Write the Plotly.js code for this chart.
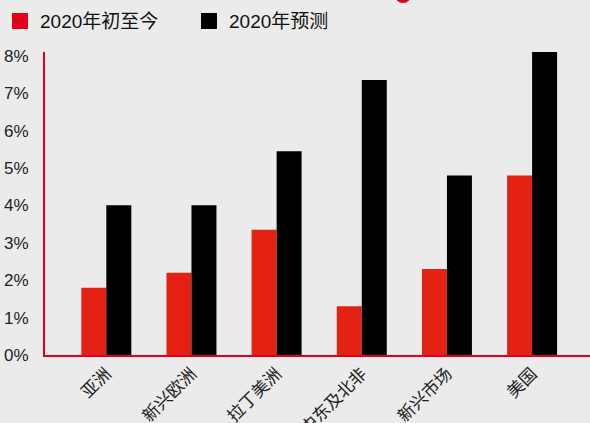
<!DOCTYPE html>
<html>
<head>
<meta charset="utf-8">
<script src="https://cdn.plot.ly/plotly-3.0.1.min.js"></script>
<style>html,body{margin:0;padding:0;background:#ebebeb;}#chart{width:590px;height:423px;}</style>
</head>
<body>
<div id="chart"></div>
<script>
var categories = ['亚洲', '新兴欧洲', '拉丁美洲', '中东及北非', '新兴市场', '美国'];
var ytdValues = [1.8, 2.2, 3.35, 1.3, 2.3, 4.8];
var forecastValues = [4.0, 4.0, 5.45, 7.35, 4.8, 8.1];
var seriesNames = ['2020年初至今', '2020年预测'];
var yTickVals = [0, 1, 2, 3, 4, 5, 6, 7, 8];
var yTickText = ['0%', '1%', '2%', '3%', '4%', '5%', '6%', '7%', '8%'];

var fontFam = '"Liberation Sans", Arial, "Noto Sans CJK SC", sans-serif';
var traces = [
  {type: 'bar', x: categories, y: ytdValues, name: seriesNames[0], marker: {color: '#e32213'}, showlegend: false, hoverinfo: 'none'},
  {type: 'bar', x: categories, y: forecastValues, name: seriesNames[1], marker: {color: '#000000'}, showlegend: false, hoverinfo: 'none'},
  {type: 'scatter', mode: 'markers', x: [null], y: [null], name: seriesNames[0], marker: {symbol: 'square', size: 16, color: '#e0001b'}},
  {type: 'scatter', mode: 'markers', x: [null], y: [null], name: seriesNames[1], marker: {symbol: 'square', size: 16, color: '#000000'}}
];
var layout = {
  width: 590, height: 423,
  paper_bgcolor: '#ebebeb', plot_bgcolor: '#ebebeb',
  margin: {l: 45, r: 0, t: 52, b: 68, pad: 0},
  font: {family: fontFam, color: '#222222', size: 16},
  barmode: 'group', bargap: 0.413, bargroupgap: 0,
  showlegend: true,
  legend: {
    orientation: 'h', xref: 'container', yref: 'container',
    x: 0, xanchor: 'left', y: 0.95, yanchor: 'middle',
    font: {size: 19, color: '#111111', family: fontFam},
    entrywidth: 144, entrywidthmode: 'pixels',
    itemsizing: 'trace', bgcolor: 'rgba(0,0,0,0)', borderwidth: 0
  },
  xaxis: {
    type: 'category', range: [-0.72, 5.68],
    showline: true, linecolor: '#e0001b', linewidth: 2,
    showgrid: false, zeroline: false, ticks: '',
    tickangle: -45, tickfont: {size: 17, color: '#222222'}
  },
  yaxis: {
    range: [0, 8.1], showline: true, linecolor: '#e0001b', linewidth: 2,
    showgrid: false, zeroline: false, ticks: '',
    tickvals: yTickVals, ticktext: yTickText,
    tickfont: {size: 17, color: '#222222'}, ticklabelstandoff: 11
  },
  shapes: [
    {type: 'circle', xref: 'paper', yref: 'paper', x0: 0.642, x1: 0.6716, y0: 1.1617, y1: 1.2145, fillcolor: '#e0001b', line: {width: 0}, layer: 'above'}
  ]
};
Plotly.newPlot('chart', traces, layout, {displayModeBar: false, staticPlot: true});
</script>
</body>
</html>
